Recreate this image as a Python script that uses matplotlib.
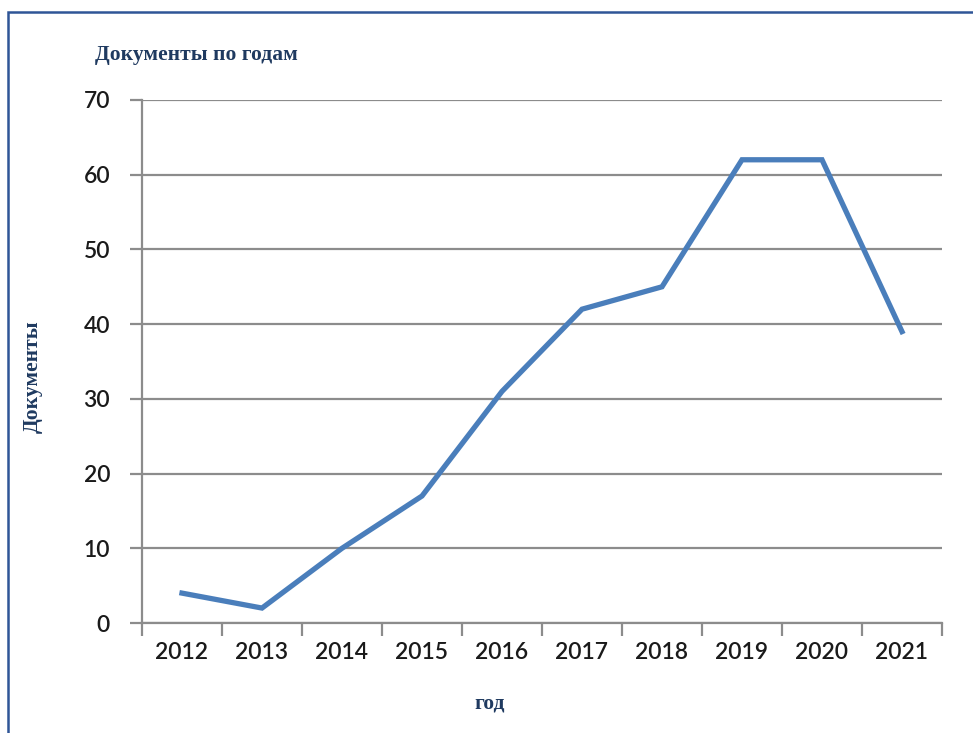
import matplotlib.pyplot as plt
from matplotlib.patches import Rectangle

# --- Data ---
years = ["2012", "2013", "2014", "2015", "2016", "2017", "2018", "2019", "2020", "2021"]
documents = [4, 2, 10, 17, 31, 42, 45, 62, 62, 39]
y_ticks = [0, 10, 20, 30, 40, 50, 60, 70]

W, H = 973, 733
fig = plt.figure(figsize=(W / 100, H / 100), dpi=100)

# axes box in pixel coords: left 142, right 942, top 100, bottom 623
ax = fig.add_axes([142 / W, 1 - 623 / H, 800 / W, 523 / H])

grid_col = "#8c8c8c"
ax.plot(range(len(years)), documents, color="#4a7ebb", linewidth=3.8,
        solid_joinstyle="miter", zorder=3)

ax.set_xlim(-0.5, len(years) - 0.5)
ax.set_ylim(0, 70)
ax.set_yticks(y_ticks)
ax.yaxis.grid(True, color=grid_col, linewidth=1.6)
ax.set_axisbelow(True)

ax.set_xticks(range(len(years)))
ax.set_xticklabels(years)
ax.set_xticks([i - 0.5 for i in range(len(years) + 1)], minor=True)
ax.tick_params(axis="x", which="major", length=0, pad=14)
ax.tick_params(axis="x", which="minor", length=9, width=1.6, color=grid_col)
ax.tick_params(axis="y", length=9, width=1.6, color=grid_col, pad=14)
for lab in ax.get_xticklabels() + ax.get_yticklabels():
    lab.set_fontfamily("Lato")
    lab.set_fontsize(16.5)
    lab.set_fontweight("semibold")
    lab.set_color("#1a1a1a")

for side in ["top", "right"]:
    ax.spines[side].set_visible(False)
for side in ["left", "bottom"]:
    ax.spines[side].set_color(grid_col)
    ax.spines[side].set_linewidth(1.6)

label_col = "#1f3a60"
fig.text(95 / W, 1 - 55 / H, "Документы по годам", family="Liberation Serif",
         fontweight="bold", fontsize=15.5, color=label_col, va="center", ha="left")
fig.text(33 / W, 1 - 377 / H, "Документы", family="Liberation Serif",
         fontweight="bold", fontsize=15.5, color=label_col, va="center",
         ha="center", rotation=90)
fig.text(490 / W, 1 - 703 / H, "год", family="Liberation Serif",
         fontweight="bold", fontsize=15.5, color=label_col, va="center", ha="center")

# outer frame, right and bottom edges run off the picture
fig.patches.append(Rectangle((8 / W, -0.01), 1.0, 1 - 12 / H + 0.01,
                             transform=fig.transFigure, fill=False,
                             edgecolor="#2f5597", linewidth=1.8))

fig.savefig("out.png", dpi=100)
